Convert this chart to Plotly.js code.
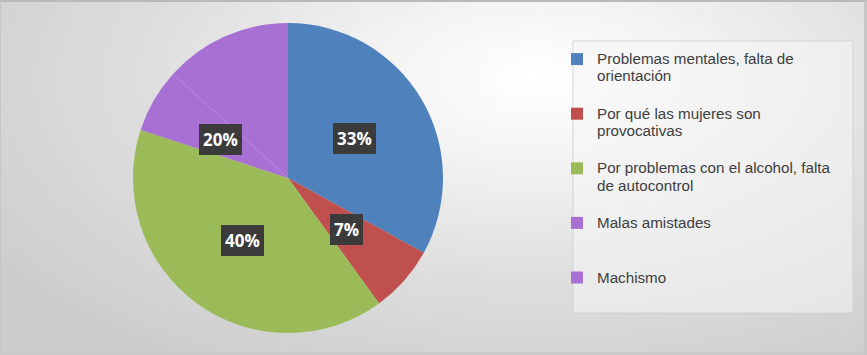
<!DOCTYPE html>
<html>
<head>
<meta charset="utf-8">
<script src="https://cdn.plot.ly/plotly-3.0.1.min.js"></script>
<style>
  html, body { margin: 0; padding: 0; }
  #wrap {
    width: 867px; height: 355px; box-sizing: border-box;
    border-top: 2px solid #b9b9b9; border-right: 3px solid #c6c6c6; border-bottom: 3px solid #c9c9c9; border-left: 1px solid #c6c6c6;
    background: radial-gradient(ellipse 75% 95% at 62% 22%, #ffffff 0%, #f3f3f3 25%, #dedede 60%, #cdcdcd 100%);
    position: relative;
  }
  #chart { position: absolute; left: -1px; top: -2px; width: 867px; height: 355px; }
</style>
</head>
<body>
<div id="wrap"><div id="chart"></div></div>
<script>
// ---- data ----
const categories = [
  "Problemas mentales, falta de|orientación",
  "Por qué las mujeres son|provocativas",
  "Por problemas con el alcohol, falta|de autocontrol",
  "Malas amistades| ",
  "Machismo"
];
const values = [33, 7, 40, 6.7, 13.3];
const dataLabels = ["33%", "7%", "40%", "20%", ""];
const colors = ["#4f81bd", "#c0504d", "#9bbb59", "#a970d4", "#a970d4"];

// ---- geometry ----
const W = 867, H = 355;
const cx = 288, cy = 178, R = 155;
const dom = {
  x: [(cx - R) / W, (cx + R) / W],
  y: [(H - cy - R) / H, (H - cy + R) / H]
};

// legend labels: visible lines drawn at 15.2px, plus a blank spacer line
const legendLabels = categories.map((c, i) => {
  const lines = c.split("|").map(s => "<span style='font-size:15.2px'>" + s + "</span>");
  if (i < categories.length - 1) lines.push(" ");
  return lines.join("<br>");
});

const trace = {
  type: "pie",
  labels: legendLabels,
  values: values,
  sort: false,
  direction: "clockwise",
  rotation: 0,
  textinfo: "none",
  hoverinfo: "label+percent",
  marker: { colors: colors, line: { width: 0 } },
  domain: dom
};

// data labels at half radius, at each slice's mid-angle
const total = values.reduce((a, b) => a + b, 0);
let cum = 0;
const annotations = [];
values.forEach((v, i) => {
  const mid = (cum + v / 2) / total * 2 * Math.PI;
  cum += v;
  if (!dataLabels[i]) return;
  const px = cx + 0.5 * R * Math.sin(mid);
  const py = cy - 0.5 * R * Math.cos(mid);
  annotations.push({
    xref: "paper", yref: "paper",
    x: px / W, y: 1 - py / H,
    xanchor: "center", yanchor: "middle",
    text: "<b>" + dataLabels[i] + "</b>",
    showarrow: false,
    font: { family: "'Open Sans', sans-serif", size: 17, color: "#ffffff" },
    bgcolor: "#3b3b3b",
    borderpad: 4,
    borderwidth: 0
  });
});

const layout = {
  width: W, height: H,
  margin: { l: 0, r: 0, t: 0, b: 0 },
  paper_bgcolor: "rgba(0,0,0,0)",
  plot_bgcolor: "rgba(0,0,0,0)",
  showlegend: true,
  legend: {
    x: 557 / W, y: 1 - 44 / H, xanchor: "left", yanchor: "top",
    bgcolor: "rgba(0,0,0,0)",
    font: { family: "'Liberation Sans', Arial, sans-serif", size: 13.23, color: "#404040" },
    valign: "top",
    itemclick: false, itemdoubleclick: false
  },
  shapes: [{
    type: "rect", xref: "paper", yref: "paper", layer: "below",
    x0: 573 / W, x1: 853 / W, y0: 1 - 313 / H, y1: 1 - 41 / H,
    fillcolor: "rgba(246,246,246,0.55)",
    line: { color: "rgba(205,205,205,0.8)", width: 1 }
  }],
  annotations: annotations
};

Plotly.newPlot("chart", [trace], layout, { displayModeBar: false, staticPlot: true });
</script>
</body>
</html>
